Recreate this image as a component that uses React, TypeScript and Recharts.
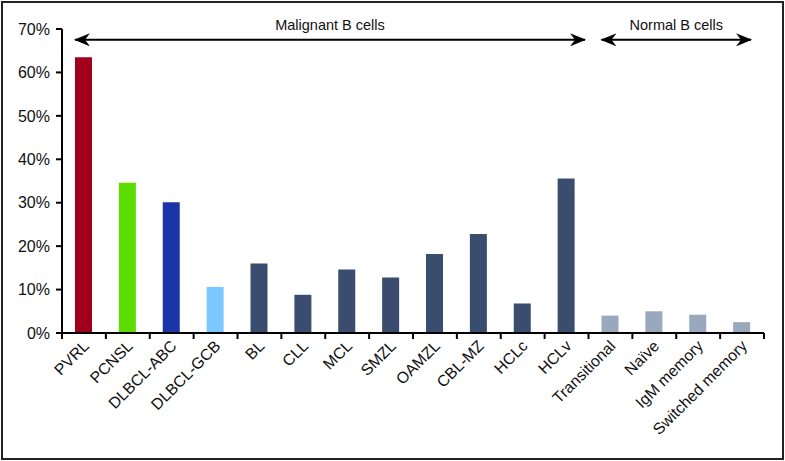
import React from "react";
import { BarChart, Bar, XAxis, YAxis, Cell } from "recharts";

// categories and values (% of cells)
const categories = [
  "PVRL", "PCNSL", "DLBCL-ABC", "DLBCL-GCB", "BL", "CLL", "MCL", "SMZL",
  "OAMZL", "CBL-MZ", "HCLc", "HCLv", "Transitional", "Naïve", "IgM memory", "Switched memory",
];
const values = [63.5, 34.6, 30.1, 10.6, 16.0, 8.8, 14.6, 12.8, 18.2, 22.8, 6.8, 35.6, 4.0, 5.0, 4.2, 2.5];
const barColors = [
  "#a0001c", "#5cdc00", "#1a35a8", "#7ac8ff",
  "#3a4d6e", "#3a4d6e", "#3a4d6e", "#3a4d6e", "#3a4d6e", "#3a4d6e", "#3a4d6e", "#3a4d6e",
  "#99a8bd", "#99a8bd", "#99a8bd", "#99a8bd",
];
const yTicks = [0, 10, 20, 30, 40, 50, 60, 70];
const groups = [
  { label: "Malignant B cells", from: 0, to: 12 },
  { label: "Normal B cells", from: 12, to: 16 },
];

const data = categories.map((name, i) => ({ name, value: values[i] }));

const W = 785;
const H = 461;
const margin = { top: 29, right: 21, bottom: 0, left: 12 };
const yAxisWidth = 50;
const xAxisHeight = 128;
const plotLeft = margin.left + yAxisWidth;
const plotWidth = W - margin.right - plotLeft;
const plotTop = margin.top;
const plotHeight = H - margin.bottom - xAxisHeight - plotTop;
const band = plotWidth / categories.length;
const yMax = 70;
const yPx = (v: number) => plotTop + plotHeight * (1 - v / yMax);

const font = "'Liberation Sans', Arial, Helvetica, sans-serif";

function XTick(props: any) {
  const { x, y, payload, index } = props;
  const left = x - band / 2;
  return (
    <g>
      <line x1={left} x2={left} y1={y} y2={y + 6} stroke="#000" strokeWidth={2} />
      {index === categories.length - 1 && (
        <line x1={x + band / 2} x2={x + band / 2} y1={y} y2={y + 6} stroke="#000" strokeWidth={2} />
      )}
      <text
        x={x + 6}
        y={y + 14}
        textAnchor="end"
        transform={`rotate(-45 ${x + 6} ${y + 14})`}
        fontSize={15.8}
        fill="#111"
        fontFamily={font}
      >
        {payload.value}
      </text>
    </g>
  );
}

function GroupArrows() {
  const ay = yPx(67.5);
  return (
    <svg width={W} height={H} style={{ position: "absolute", left: 0, top: 0, pointerEvents: "none" }}>
      <defs>
        <marker id="ah" viewBox="0 0 16 13" refX="15" refY="6.5" markerWidth="16" markerHeight="13" markerUnits="userSpaceOnUse" orient="auto-start-reverse">
          <path d="M0,0 L16,6.5 L0,13 L5,6.5 Z" fill="#000" />
        </marker>
      </defs>
      {groups.map((g) => {
        const x1 = plotLeft + band * g.from + band / 4;
        const x2 = plotLeft + band * g.to - (g.to === categories.length ? band / 4 : 1.5);
        return (
          <g key={g.label}>
            <line x1={x1 + 2} x2={x2 - 2} y1={ay} y2={ay} stroke="#000" strokeWidth={2} markerStart="url(#ah)" markerEnd="url(#ah)" />
            <text x={(x1 + x2) / 2} y={ay - 10} textAnchor="middle" fontSize={14.5} fill="#111" fontFamily={font}>
              {g.label}
            </text>
          </g>
        );
      })}
    </svg>
  );
}

export default function App() {
  return (
    <div style={{ position: "absolute", left: 0, top: 0, width: W, height: H, background: "#fff", fontFamily: font }}>
      <BarChart width={W} height={H} data={data} margin={margin}>
        <XAxis
          dataKey="name"
          interval={0}
          height={xAxisHeight}
          tickLine={false}
          tickSize={0}
          tickMargin={0}
          axisLine={{ stroke: "#000", strokeWidth: 2 }}
          tick={<XTick />}
        />
        <YAxis
          width={yAxisWidth}
          domain={[0, yMax]}
          ticks={yTicks}
          tickFormatter={(v: number) => `${v}%`}
          axisLine={{ stroke: "#000", strokeWidth: 2 }}
          tickLine={{ stroke: "#000", strokeWidth: 2 }}
          tickSize={6}
          tickMargin={6}
          tick={{ fill: "#111", fontSize: 16, fontFamily: font }}
        />
        <Bar dataKey="value" barSize={17} isAnimationActive={false}>
          {data.map((d, i) => (
            <Cell key={d.name} fill={barColors[i]} />
          ))}
        </Bar>
      </BarChart>
      <GroupArrows />
      <div
        style={{
          position: "absolute",
          left: 1,
          top: 1,
          width: 779,
          height: 455,
          border: "2px solid #222",
          pointerEvents: "none",
        }}
      />
    </div>
  );
}
